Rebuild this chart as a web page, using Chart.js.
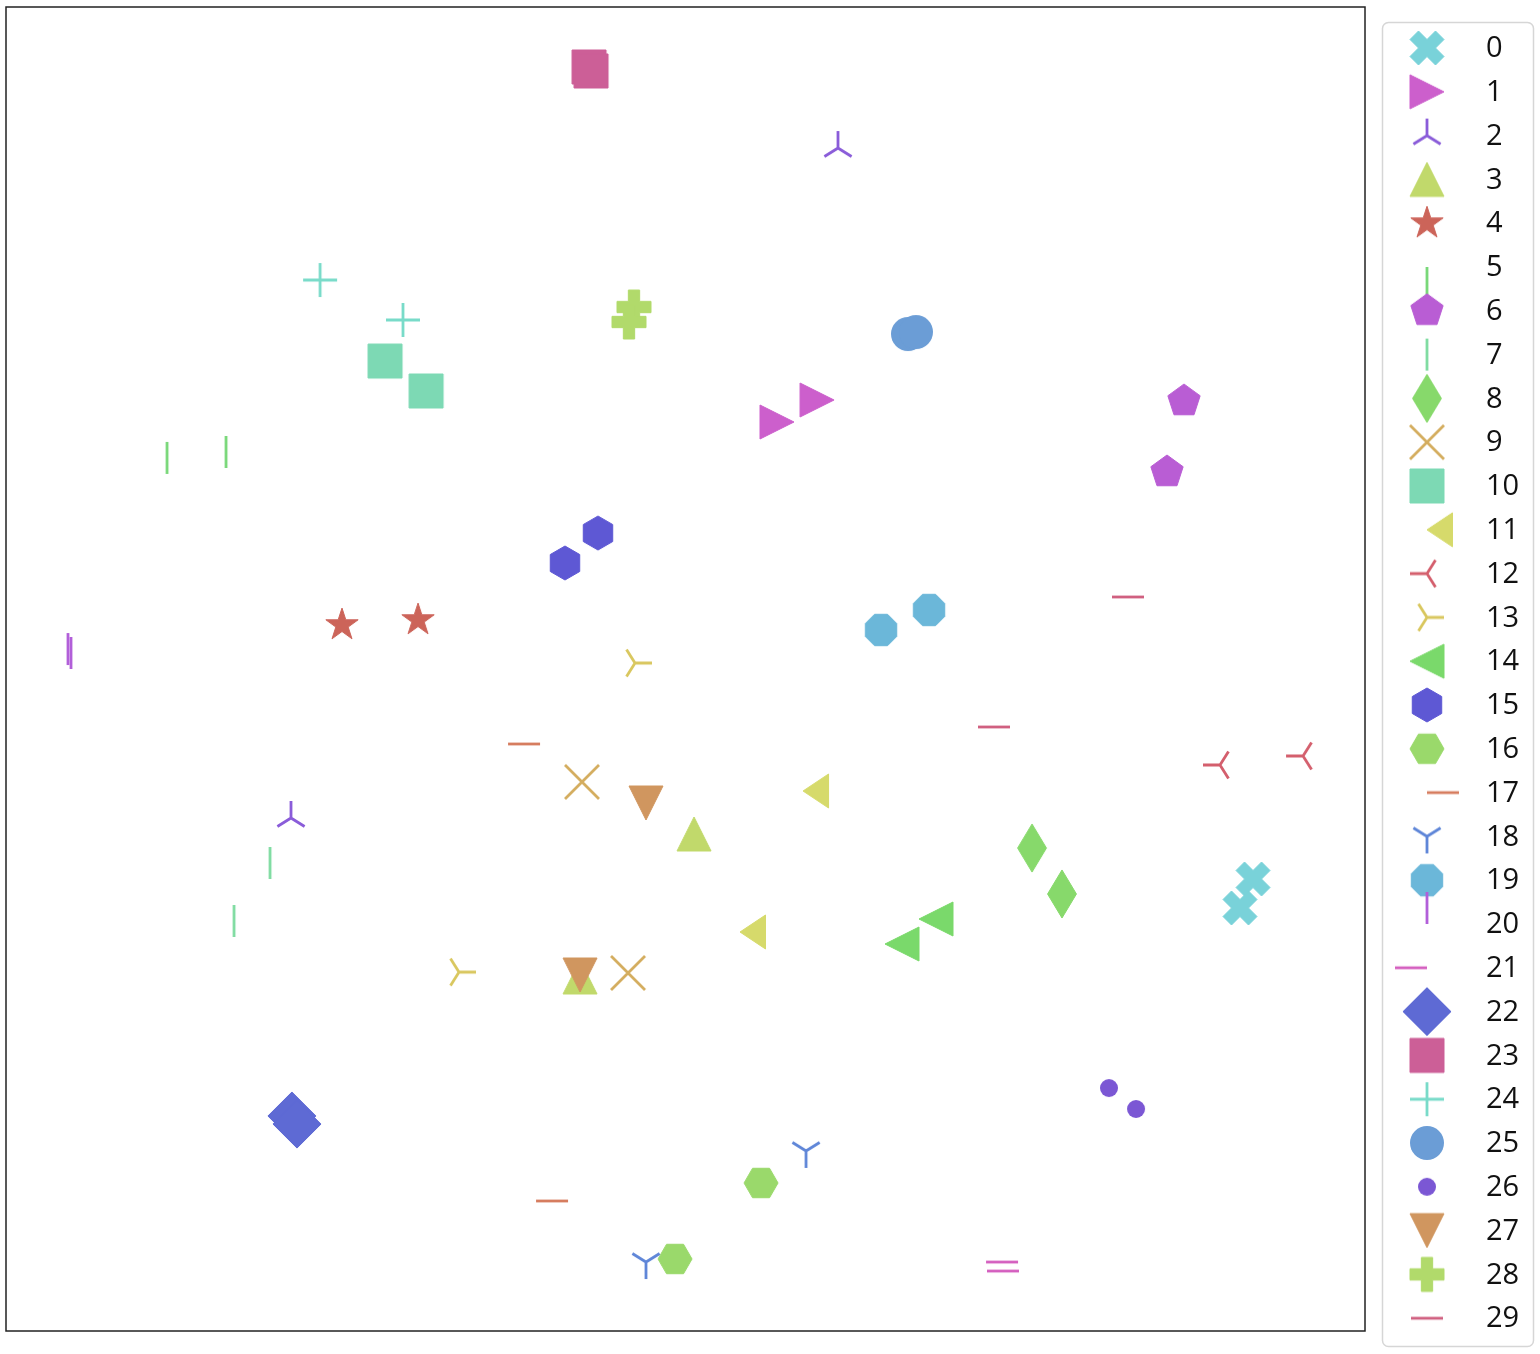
<!DOCTYPE html>
<html><head><meta charset="utf-8">
<script src="https://cdn.jsdelivr.net/npm/chart.js@4"></script>
<style>html,body{margin:0;padding:0;background:#fff}#wrap{width:1540px;height:1354px;position:relative}</style>
</head><body><div id="wrap"><canvas id="c" width="1540" height="1354"></canvas></div>
<script>
// ---------- data ----------
const categories = ["0","1","2","3","4","5","6","7","8","9","10","11","12","13","14","15","16","17","18","19","20","21","22","23","24","25","26","27","28","29"];
const xValues = [
  [91.76, 90.80], [56.73, 59.68], [61.22, 20.97], [50.63, 42.24], [24.72, 30.32],
  [11.85, 16.19], [86.68, 85.43], [19.43, 16.78], [75.50, 77.70], [42.38, 45.77],
  [27.89, 30.91], [58.65, 54.01], [89.33, 95.44], [33.33, 46.28], [65.93, 68.43],
  [41.13, 43.56], [55.56, 49.23], [36.94, 39.00], [58.87, 47.09], [64.39, 67.92],
  [4.56, 4.78],   [74.47, 74.54], [21.04, 21.41], [42.90, 43.05], [23.11, 29.21],
  [66.37, 66.96], [81.16, 83.15], [47.09, 42.24], [46.21, 45.84], [82.56, 72.70]
];
const yValues = [
  [34.14, 31.95], [68.66, 70.32], [89.35, 38.75], [37.54, 26.74], [53.32, 53.70],
  [67.15, 67.60], [70.24, 64.88], [35.35, 30.97], [36.48, 33.01], [41.47, 27.04],
  [73.26, 71.00], [40.79, 30.14], [42.75, 43.43], [27.11, 50.45], [29.23, 31.12],
  [58.01, 60.27], [11.18, 5.44],  [44.34, 9.82],  [13.60, 5.21],  [52.95, 54.46],
  [50.30, 50.00], [5.21, 4.53],   [16.24, 15.63], [95.47, 95.17], [79.38, 76.36],
  [75.30, 75.45], [18.35, 16.77], [39.88, 26.89], [77.34, 76.21], [55.44, 45.62]
];
// ---------- styles ----------
const markerTypes = ["X",">","tri_up","^","*","tickdown","p","|","d","x","s","caretleft","tri_left","tri_right","<","h","H","tickright","tri_down","8","tickup","tickleft","D","s","+","o",".","v","P","_"];
const colors = ["#79d2d9","#cc5fcc","#8a5cd9","#c1d96b","#cc6459","#79d879","#b95dd4","#80dca2","#87d96b","#d4ad5f",
  "#7dd9b4","#d6da6b","#d45f6d","#d9c75f","#7ad96b","#5e58d4","#9ad96b","#d67d5f","#5f86d8","#6bb7d9",
  "#b25fd9","#d45fbf","#5e6ad4","#cc5f97","#79dbc9","#6b9dd6","#7b57d4","#d0965f","#b1da6b","#d06080"];

function makeMarker(type, color){
  const N = 72, c = document.createElement('canvas'); c.width = N; c.height = N;
  const g = c.getContext('2d'); g.translate(N/2, N/2);
  g.fillStyle = color; g.strokeStyle = color; g.lineJoin = 'miter'; g.lineCap = 'butt';
  const R = 17, S = 34, LW = 2.8;
  const poly = (pts) => { g.beginPath(); pts.forEach((p,i)=> i ? g.lineTo(p[0],p[1]) : g.moveTo(p[0],p[1])); g.closePath(); g.fill(); g.lineWidth = 1; g.stroke(); };
  const lines = (segs) => { g.lineWidth = LW; g.beginPath(); segs.forEach(s=>{ g.moveTo(s[0],s[1]); g.lineTo(s[2],s[3]); }); g.stroke(); };
  const reg = (n, r, rot) => { const p=[]; for(let i=0;i<n;i++){ const a=-Math.PI/2+rot+i*2*Math.PI/n; p.push([r*Math.cos(a), r*Math.sin(a)]); } return p; };
  const a8 = 0.8*R, a5 = 0.5*R, L = 32;
  switch(type){
    case "X": poly([[-1,-2],[0,-1],[1,-2],[2,-1],[1,0],[2,1],[1,2],[0,1],[-1,2],[-2,1],[-1,0],[-2,-1]].map(p=>[p[0]*S/4,p[1]*S/4])); break;
    case "P": poly([[-1,-3],[1,-3],[1,-1],[3,-1],[3,1],[1,1],[1,3],[-1,3],[-1,1],[-3,1],[-3,-1],[-1,-1]].map(p=>[p[0]*S/6,p[1]*S/6])); break;
    case ">": poly([[R,0],[-R,R],[-R,-R]]); break;
    case "<": poly([[-R,0],[R,-R],[R,R]]); break;
    case "^": poly([[0,-R],[R,R],[-R,R]]); break;
    case "v": poly([[0,R],[R,-R],[-R,-R]]); break;
    case "caretleft": poly([[0,0],[1.5*R,-R],[1.5*R,R]]); break;
    case "tri_up": lines([[0,0,0,-R],[0,0,-a8,a5],[0,0,a8,a5]]); break;
    case "tri_down": lines([[0,0,0,R],[0,0,-a8,-a5],[0,0,a8,-a5]]); break;
    case "tri_left": lines([[0,0,-R,0],[0,0,a5,-a8],[0,0,a5,a8]]); break;
    case "tri_right": lines([[0,0,R,0],[0,0,-a5,-a8],[0,0,-a5,a8]]); break;
    case "*": { const p=[]; for(let i=0;i<10;i++){ const r = i%2 ? R*0.381966 : R; const a=-Math.PI/2+i*Math.PI/5; p.push([r*Math.cos(a), r*Math.sin(a)]); } poly(p); break; }
    case "tickdown": lines([[0,0,0,L]]); break;
    case "tickup": lines([[0,0,0,-L]]); break;
    case "tickleft": lines([[0,0,-L,0]]); break;
    case "tickright": lines([[0,0,L,0]]); break;
    case "|": lines([[0,-L/2,0,L/2]]); break;
    case "_": lines([[-L/2,0,L/2,0]]); break;
    case "p": poly(reg(5,R,0)); break;
    case "h": poly(reg(6,R,0)); break;
    case "H": poly(reg(6,R,Math.PI/6)); break;
    case "8": poly(reg(8,R,Math.PI/8)); break;
    case "o": g.beginPath(); g.arc(0,0,R,0,Math.PI*2); g.fill(); break;
    case ".": g.beginPath(); g.arc(0,0,R*0.53,0,Math.PI*2); g.fill(); break;
    case "s": poly([[-R,-R],[R,-R],[R,R],[-R,R]]); break;
    case "D": { const d=R*Math.SQRT2; poly([[0,-d],[d,0],[0,d],[-d,0]]); break; }
    case "d": { const d=R*Math.SQRT2; poly([[0,-d],[0.6*d,0],[0,d],[-0.6*d,0]]); break; }
    case "+": lines([[-R,0,R,0],[0,-R,0,R]]); break;
    case "x": lines([[-R,-R,R,R],[-R,R,R,-R]]); break;
  }
  return c;
}

const markerImgs = categories.map((c,i)=>makeMarker(markerTypes[i], colors[i]));

const datasets = categories.map((cat,i)=>({
  label: cat,
  data: xValues[i].map((x,k)=>({x: x, y: yValues[i][k]})),
  pointStyle: markerImgs[i],
  backgroundColor: colors[i],
  borderColor: colors[i],
  order: -i
}));

const framePlugin = {
  id: 'frame',
  afterDraw(chart){
    const {ctx, chartArea:a} = chart;
    ctx.save();
    ctx.strokeStyle = '#222'; ctx.lineWidth = 1.5;
    ctx.strokeRect(a.left, a.top, a.right-a.left, a.bottom-a.top);
    // legend box
    const bx = 1382.5, by = 22.5, bw = 151, bh = 1324, r = 6;
    ctx.strokeStyle = '#d6d6d6'; ctx.lineWidth = 1.5;
    ctx.beginPath();
    ctx.moveTo(bx+r,by); ctx.lineTo(bx+bw-r,by); ctx.arcTo(bx+bw,by,bx+bw,by+r,r);
    ctx.lineTo(bx+bw,by+bh-r); ctx.arcTo(bx+bw,by+bh,bx+bw-r,by+bh,r);
    ctx.lineTo(bx+r,by+bh); ctx.arcTo(bx,by+bh,bx,by+bh-r,r);
    ctx.lineTo(bx,by+r); ctx.arcTo(bx,by,bx+r,by,r); ctx.closePath(); ctx.stroke();
    ctx.font = '29px "Open Sans", sans-serif';
    ctx.fillStyle = '#111'; ctx.textBaseline = 'middle'; ctx.textAlign = 'left';
    chart.data.datasets.forEach((ds,i)=>{
      const cy = 48 + i*43.8;
      const img = ds.pointStyle;
      ctx.drawImage(img, 1427 - img.width/2, cy - img.height/2);
      ctx.fillText(ds.label, 1486, cy + 1);
    });
    ctx.restore();
  }
};

new Chart(document.getElementById('c'), {
  type: 'scatter',
  data: { datasets },
  options: {
    responsive: false,
    animation: false,
    devicePixelRatio: 1,
    layout: { autoPadding: false, padding: { left: 6, top: 7, right: 175, bottom: 23 } },
    scales: {
      x: { type: 'linear', min: 0, max: 100, display: false },
      y: { type: 'linear', min: 0, max: 100, display: false }
    },
    elements: { point: { radius: 17, hoverRadius: 17 } },
    plugins: { legend: { display: false }, tooltip: { enabled: false } }
  },
  plugins: [framePlugin]
});
</script>
</body></html>
